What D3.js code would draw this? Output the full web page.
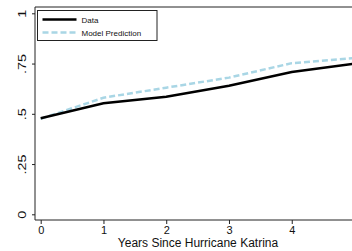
<!DOCTYPE html>
<html><head><meta charset="utf-8">
<script src="https://cdn.jsdelivr.net/npm/d3@7"></script>
<style>body{margin:0;background:#fff}svg{display:block;font-family:"Liberation Sans",Arial,sans-serif}</style>
</head><body><svg id="c" width="352" height="251"></svg>
<script>
const years = [0, 1, 2, 3, 4, 5];
const dataValues = [0.478, 0.552, 0.585, 0.640, 0.708, 0.750];
const modelValues = [0.475, 0.580, 0.630, 0.680, 0.752, 0.777];
const xTicks = [0, 1, 2, 3, 4, 5];
const yTicks = [0, 0.25, 0.5, 0.75, 1];
const yTickLabels = ["0", ".25", ".5", ".75", "1"];
const seriesNames = ["Data", "Model Prediction"];

(function () {
const svg = d3.select("#c");
const pL = 35, pT = 7, pB = 220, pR = 360;
const x = d3.scaleLinear().domain([0, 5]).range([40.7, 354.5]);
const y = d3.scaleLinear().domain([0, 1]).range([214.3, 13.3]);

svg.append("line").attr("x1", pL).attr("x2", pR).attr("y1", pT).attr("y2", pT).attr("stroke", "#222").attr("stroke-width", 1);

const yAxis = d3.axisLeft(y).tickValues(yTicks).tickSize(3).tickPadding(8)
  .tickFormat((d, i) => yTickLabels[i]);
const gy = svg.append("g").attr("transform", `translate(${pL},0)`).call(yAxis);
gy.select(".domain").attr("d", `M0,${pT}V${pB}`).attr("stroke", "#222");
gy.selectAll(".tick line").attr("stroke", "#222");
gy.selectAll(".tick text").attr("font-size", 11.5).attr("fill", "#111")
  .attr("transform", "rotate(-90) scale(1.25,1)").attr("text-anchor", "middle")
  .attr("x", 0).attr("dy", 0).attr("y", -9);

const xAxis = d3.axisBottom(x).tickValues(xTicks).tickSize(4).tickPadding(2).tickFormat(d3.format("d"));
const gx = svg.append("g").attr("transform", `translate(0,${pB})`).call(xAxis);
gx.select(".domain").attr("d", `M${pL},0H${pR}`).attr("stroke", "#222");
gx.selectAll(".tick line").attr("stroke", "#222");
gx.selectAll(".tick text").attr("font-size", 11).attr("fill", "#111");

svg.append("text").attr("x", 198).attr("y", 246.5).attr("text-anchor", "middle")
  .attr("font-size", 12).attr("fill", "#111").text("Years Since Hurricane Katrina");

const line = d3.line().x((d, i) => x(years[i])).y(d => y(d));
svg.append("path").datum(modelValues).attr("d", line).attr("fill", "none")
  .attr("stroke", "#a9d6e5").attr("stroke-width", 2.5).attr("stroke-dasharray", "6,3");
svg.append("path").datum(dataValues).attr("d", line).attr("fill", "none")
  .attr("stroke", "#000").attr("stroke-width", 2.5);

const lg = svg.append("g");
lg.append("rect").attr("x", 37.5).attr("y", 10.5).attr("width", 119.5).attr("height", 30)
  .attr("fill", "#fff").attr("stroke", "#222").attr("stroke-width", 1);
const styles = [{c: "#000", d: null}, {c: "#a9d6e5", d: "6,3"}];
seriesNames.forEach((n, i) => {
  const yy = 19.5 + i * 13;
  const l = lg.append("line").attr("x1", 42.5).attr("x2", 76.5).attr("y1", yy).attr("y2", yy)
    .attr("stroke", styles[i].c).attr("stroke-width", 2.5);
  if (styles[i].d) l.attr("stroke-dasharray", styles[i].d);
  lg.append("text").attr("x", 81.5).attr("y", yy + 3).attr("font-size", 8).attr("fill", "#111").text(n);
});
})();
</script></body></html>
